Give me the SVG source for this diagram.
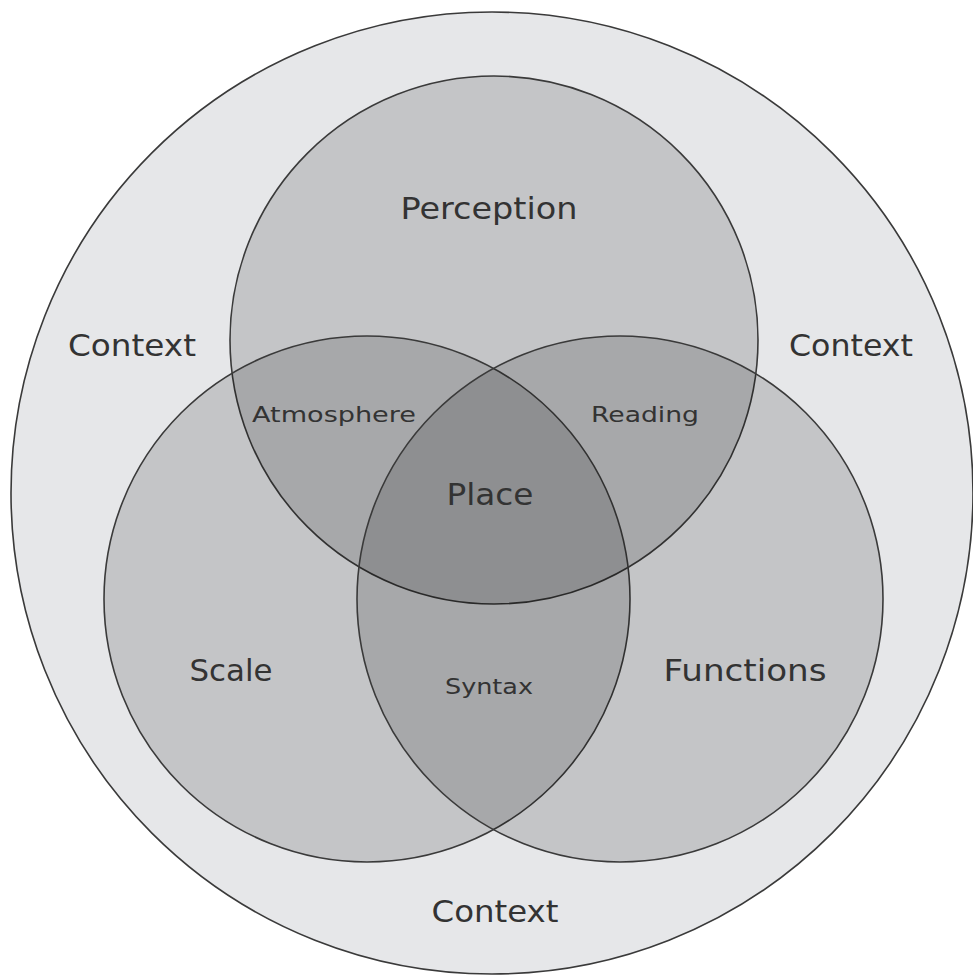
<svg xmlns="http://www.w3.org/2000/svg" width="973" height="980" viewBox="0 0 973 980">
<style>
.c{fill:#000;fill-opacity:0.145;stroke:#3a3a3a;stroke-width:1.6}
.t{font-family:"DejaVu Sans","Open Sans",sans-serif;fill:#333;text-anchor:middle}
.l{font-size:30px}
.s{font-size:22px}
</style>
<rect width="973" height="980" fill="#fff"/>
<g id="context">
<circle cx="492" cy="493" r="481" fill="#e6e7e9" stroke="#3a3a3a" stroke-width="1.6"/>
<text class="t l" x="132" y="356" textLength="128" lengthAdjust="spacingAndGlyphs">Context</text>
<text class="t l" x="851" y="356" textLength="124" lengthAdjust="spacingAndGlyphs">Context</text>
<text class="t l" x="495" y="922" textLength="127" lengthAdjust="spacingAndGlyphs">Context</text>
</g>
<g id="perception">
<circle class="c" cx="494" cy="340" r="264"/>
<text class="t l" x="489" y="219" textLength="177" lengthAdjust="spacingAndGlyphs">Perception</text>
</g>
<g id="scale">
<circle class="c" cx="367" cy="599" r="263"/>
<text class="t l" x="231" y="681" textLength="83" lengthAdjust="spacingAndGlyphs">Scale</text>
</g>
<g id="functions">
<circle class="c" cx="620" cy="599" r="263"/>
<text class="t l" x="745" y="681" textLength="163" lengthAdjust="spacingAndGlyphs">Functions</text>
</g>
<g id="overlaps">
<text class="t s" x="334" y="422" textLength="164" lengthAdjust="spacingAndGlyphs">Atmosphere</text>
<text class="t s" x="645" y="422" textLength="108" lengthAdjust="spacingAndGlyphs">Reading</text>
<text class="t l" x="490" y="505" textLength="87" lengthAdjust="spacingAndGlyphs">Place</text>
<text class="t s" x="489" y="694" textLength="88" lengthAdjust="spacingAndGlyphs">Syntax</text>
</g>
<g id="connectors"/>
</svg>
